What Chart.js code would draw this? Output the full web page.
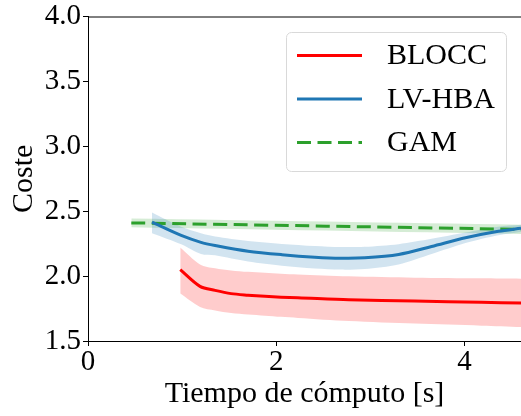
<!DOCTYPE html>
<html>
<head>
<meta charset="utf-8">
<script src="https://cdn.jsdelivr.net/npm/chart.js@4.4.1/dist/chart.umd.min.js"></script>
<style>
  html, body { margin: 0; padding: 0; background: #fff; }
</style>
</head>
<body>
<canvas id="chart" width="521" height="416"></canvas>
<script>
// axis ticks
const xTicks = [0, 2, 4];
const yTicks = [1.5, 2.0, 2.5, 3.0, 3.5, 4.0];
const seriesNames = ["BLOCC", "LV-HBA", "GAM"];

// BLOCC (red)
const bloccX     = [0.98, 1.19, 1.35, 1.52, 1.70, 1.88, 2.05, 2.23, 2.77, 3.47, 4.18, 4.60];
const bloccMean  = [2.05, 1.921, 1.89, 1.865, 1.853, 1.844, 1.838, 1.834, 1.818, 1.808, 1.798, 1.792];
const bloccUpper = [2.22, 2.09, 2.06, 2.044, 2.033, 2.025, 2.018, 2.012, 1.998, 1.988, 1.983, 1.98];
const bloccLower = [1.865, 1.762, 1.735, 1.715, 1.704, 1.695, 1.686, 1.678, 1.654, 1.634, 1.618, 1.608];

// LV-HBA (blue)
const lvX     = [0.68, 0.99, 1.20, 1.35, 1.70, 2.06, 2.41, 2.69, 2.94, 3.30, 3.65, 4.01, 4.36, 4.60];
const lvMean  = [2.415, 2.313, 2.26, 2.236, 2.192, 2.165, 2.146, 2.138, 2.141, 2.167, 2.228, 2.295, 2.345, 2.368];
const lvUpper = [2.49, 2.38, 2.33, 2.305, 2.27, 2.248, 2.232, 2.224, 2.226, 2.246, 2.287, 2.335, 2.38, 2.395];
const lvLower = [2.33, 2.245, 2.17, 2.16, 2.112, 2.08, 2.058, 2.05, 2.055, 2.09, 2.17, 2.255, 2.315, 2.34];

// GAM (green)
const gamX     = [0.46, 4.60];
const gamMean  = [2.41, 2.36];
const gamUpper = [2.443, 2.395];
const gamLower = [2.377, 2.325];

const RED = "#ff0000";
const BLUE = "#1f77b4";
const GREEN = "#2ca02c";
const FONT = "'Liberation Serif', 'Times New Roman', serif";
Chart.defaults.font.family = FONT;

const pts = (xs, ys) => xs.map((x, i) => ({ x: x, y: ys[i] }));

function lineSet(label, xs, ys, color, order, dash) {
    return {
        label: label,
        data: pts(xs, ys),
        borderColor: color,
        borderWidth: 3,
        borderDash: dash || [],
        pointRadius: 0,
        fill: false,
        tension: 0.3,
        order: order,
    };
}

function bandSet(xs, ys, color, order, fillTarget) {
    return {
        label: "",
        data: pts(xs, ys),
        borderWidth: 0,
        borderColor: "rgba(0,0,0,0)",
        backgroundColor: color,
        pointRadius: 0,
        fill: fillTarget === undefined ? false : fillTarget,
        tension: 0.3,
        order: order,
    };
}

// legend drawn inside the axes, matplotlib style
const legendBox = {
    id: "legendBox",
    afterDraw(chart) {
        const ctx = chart.ctx;
        const area = chart.chartArea;
        ctx.save();
        // top spine
        ctx.strokeStyle = "#000";
        ctx.lineWidth = 1;
        ctx.beginPath();
        ctx.moveTo(area.left, area.top + 0.5);
        ctx.lineTo(area.right, area.top + 0.5);
        ctx.stroke();

        const bx = 286.5, by = 32.5, bw = 220, bh = 139, r = 5;
        ctx.beginPath();
        ctx.moveTo(bx + r, by);
        ctx.arcTo(bx + bw, by, bx + bw, by + bh, r);
        ctx.arcTo(bx + bw, by + bh, bx, by + bh, r);
        ctx.arcTo(bx, by + bh, bx, by, r);
        ctx.arcTo(bx, by, bx + bw, by, r);
        ctx.closePath();
        ctx.fillStyle = "rgba(255,255,255,0.8)";
        ctx.fill();
        ctx.strokeStyle = "#d9d9d9";
        ctx.stroke();

        const colors = [RED, BLUE, GREEN];
        const dashes = [[], [], [14, 6.5]];
        const rowY = [55.5, 99, 142.5];
        ctx.font = "30px " + FONT;
        ctx.textBaseline = "middle";
        ctx.textAlign = "left";
        seriesNames.forEach((name, i) => {
            ctx.strokeStyle = colors[i];
            ctx.lineWidth = 3;
            ctx.setLineDash(dashes[i]);
            ctx.beginPath();
            ctx.moveTo(297, rowY[i]);
            ctx.lineTo(362, rowY[i]);
            ctx.stroke();
            ctx.setLineDash([]);
            ctx.fillStyle = "#000";
            ctx.fillText(name, 387, rowY[i] + 1);
        });
        ctx.restore();
    },
};

const ctx = document.getElementById("chart").getContext("2d");
new Chart(ctx, {
    type: "line",
    data: {
        datasets: [
            lineSet(seriesNames[0], bloccX, bloccMean, RED, 0),
            lineSet(seriesNames[1], lvX, lvMean, BLUE, 1),
            lineSet(seriesNames[2], gamX, gamMean, GREEN, 2, [14, 6.5]),
            bandSet(bloccX, bloccUpper, "rgba(255,0,0,0.2)", 10, 4),
            bandSet(bloccX, bloccLower, "rgba(255,0,0,0.2)", 10),
            bandSet(lvX, lvUpper, "rgba(31,119,180,0.2)", 11, 6),
            bandSet(lvX, lvLower, "rgba(31,119,180,0.2)", 11),
            bandSet(gamX, gamUpper, "rgba(44,160,44,0.2)", 12, 8),
            bandSet(gamX, gamLower, "rgba(44,160,44,0.2)", 12),
        ],
    },
    options: {
        responsive: false,
        animation: false,
        layout: { padding: { top: 16, right: 0, bottom: 0, left: 0 } },
        plugins: {
            legend: { display: false },
            tooltip: { enabled: false },
        },
        scales: {
            x: {
                type: "linear",
                min: 0,
                max: 4.6,
                afterBuildTicks: (scale) => { scale.ticks = xTicks.map((v) => ({ value: v })); },
                afterFit: (scale) => { scale.height = 75; },
                grid: { drawOnChartArea: false, drawTicks: true, tickLength: 5, color: "#000" },
                border: { display: true, color: "#000", width: 1 },
                ticks: {
                    color: "#000",
                    padding: 2,
                    maxRotation: 0,
                    font: { family: FONT, size: 29, lineHeight: 1 },
                    callback: (v) => String(v),
                },
                title: {
                    display: true,
                    text: "Tiempo de cómputo [s]",
                    color: "#000",
                    font: { family: FONT, size: 30, lineHeight: 1.2 },
                    padding: { top: 0, bottom: 4 },
                },
            },
            y: {
                type: "linear",
                min: 1.5,
                max: 4.0,
                afterBuildTicks: (scale) => { scale.ticks = yTicks.map((v) => ({ value: v })); },
                afterFit: (scale) => { scale.width = 88; },
                grid: { drawOnChartArea: false, drawTicks: true, tickLength: 5, color: "#000" },
                border: { display: true, color: "#000", width: 1 },
                ticks: {
                    color: "#000",
                    padding: 2,
                    font: { family: FONT, size: 29, lineHeight: 1 },
                    callback: (v) => Number(v).toFixed(1),
                },
                title: {
                    display: true,
                    text: "Coste",
                    color: "#000",
                    font: { family: FONT, size: 30, lineHeight: 1.2 },
                    padding: { top: 6, bottom: 0 },
                },
            },
        },
    },
    plugins: [legendBox],
});
</script>
</body>
</html>
